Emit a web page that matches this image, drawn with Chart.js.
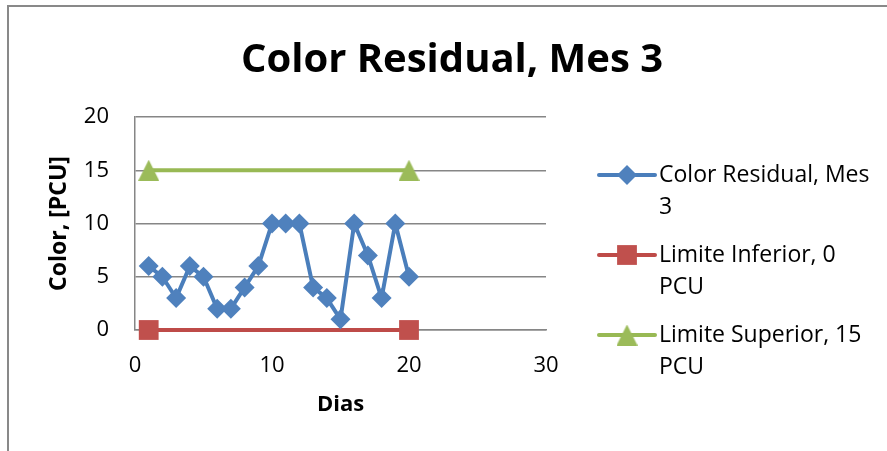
<!DOCTYPE html>
<html>
<head>
<meta charset="utf-8">
<script src="https://cdn.jsdelivr.net/npm/chart.js@4/dist/chart.umd.min.js"></script>
<style>
  html, body { margin: 0; padding: 0; background: #fff; }
  #wrap { position: relative; width: 887px; height: 451px; }
  canvas { display: block; }
</style>
</head>
<body>
<div id="wrap"><canvas id="c" width="887" height="451"></canvas></div>
<script>
// Day numbers and measured residual colour for month 3
const dias = [1, 2, 3, 4, 5, 6, 7, 8, 9, 10, 11, 12, 13, 14, 15, 16, 17, 18, 19, 20];
const colorResidual = [6, 5, 3, 6, 5, 2, 2, 4, 6, 10, 10, 10, 4, 3, 1, 10, 7, 3, 10, 5];

// Control limits, drawn between the first and last day
const limiteDias = [1, 20];
const limiteInferior = [0, 0];
const limiteSuperior = [15, 15];

const chartTitle = 'Color Residual, Mes 3';
const seriesNames = ['Color Residual, Mes 3', 'Limite Inferior, 0 PCU', 'Limite Superior, 15 PCU'];
const xTicks = [0, 10, 20, 30];
const yTicks = [0, 5, 10, 15, 20];

const FONT = "'Open Sans', 'DejaVu Sans', sans-serif";
const GRID = '#868686';

function pts(xs, ys) { return xs.map((x, i) => ({ x: x, y: ys[i] })); }

// Triangle marker whose bounding box is centred on the data point
function triangleMarker(size, color) {
  const c = document.createElement('canvas');
  c.width = size; c.height = size;
  const g = c.getContext('2d');
  g.fillStyle = color;
  g.beginPath();
  g.moveTo(size / 2, 0);
  g.lineTo(size, size);
  g.lineTo(0, size);
  g.closePath();
  g.fill();
  return c;
}
const triImg = triangleMarker(21, '#9BBB59');

// Frame line around the whole chart, plus the centred title
const framePlugin = {
  id: 'frame',
  beforeDraw(chart) {
    const ctx = chart.ctx;
    ctx.save();
    ctx.fillStyle = '#ffffff';
    ctx.fillRect(0, 0, chart.width, chart.height);
    ctx.strokeStyle = '#898989';
    ctx.lineWidth = 2;
    ctx.beginPath();
    ctx.moveTo(8, chart.height + 2);
    ctx.lineTo(8, 6);
    ctx.lineTo(chart.width + 2, 6);
    ctx.stroke();
    ctx.fillStyle = '#000000';
    ctx.font = 'bold 40px ' + FONT;
    ctx.textAlign = 'center';
    ctx.textBaseline = 'alphabetic';
    ctx.fillText(chartTitle, 452, 72);
    ctx.restore();
  }
};

function drawMarker(ctx, ds, x, y) {
  const style = ds.pointStyle;
  const r = ds.pointRadius;
  if (style instanceof HTMLCanvasElement) {
    ctx.drawImage(style, x - style.width / 2, y - style.height / 2);
    return;
  }
  ctx.fillStyle = ds.pointBackgroundColor;
  ctx.beginPath();
  if (style === 'rectRot') {
    ctx.moveTo(x, y - r); ctx.lineTo(x + r, y); ctx.lineTo(x, y + r); ctx.lineTo(x - r, y);
  } else {
    const s = r * Math.SQRT1_2;
    ctx.rect(x - s, y - s, 2 * s, 2 * s);
  }
  ctx.closePath();
  ctx.fill();
}

// Legend on the right with wrapped labels
const sideLegend = {
  id: 'sideLegend',
  afterDraw(chart) {
    const ctx = chart.ctx;
    const x0 = 599, x1 = 655, tx = 659, maxW = 218, lh = 32;
    const rowTops = [175, 255, 335];
    ctx.save();
    ctx.font = '23px ' + FONT;
    ctx.textBaseline = 'middle';
    ctx.textAlign = 'left';
    chart.data.datasets.forEach((ds, i) => {
      const y = rowTops[i];
      ctx.strokeStyle = ds.borderColor;
      ctx.lineWidth = 4;
      ctx.lineCap = 'round';
      ctx.beginPath();
      ctx.moveTo(x0, y); ctx.lineTo(x1, y);
      ctx.stroke();
      drawMarker(ctx, ds, (x0 + x1) / 2, y);
      // wrap label words to the available width
      const words = ds.label.split(' ');
      const lines = [];
      let cur = '';
      words.forEach(w => {
        const t = cur ? cur + ' ' + w : w;
        if (ctx.measureText(t).width > maxW && cur) { lines.push(cur); cur = w; }
        else cur = t;
      });
      if (cur) lines.push(cur);
      ctx.fillStyle = '#000000';
      lines.forEach((ln, k) => ctx.fillText(ln, tx, y + k * lh));
    });
    ctx.restore();
  }
};

new Chart(document.getElementById('c'), {
  type: 'scatter',
  data: {
    datasets: [
      {
        label: seriesNames[0],
        data: pts(dias, colorResidual),
        showLine: true,
        clip: false,
        borderColor: '#4A7EBB',
        borderWidth: 4,
        pointStyle: 'rectRot',
        pointRadius: 10,
        pointHoverRadius: 10,
        pointBackgroundColor: '#4F81BD',
        pointBorderWidth: 0,
        order: 1
      },
      {
        label: seriesNames[1],
        data: pts(limiteDias, limiteInferior),
        showLine: true,
        clip: false,
        borderColor: '#BE4B48',
        borderWidth: 4,
        pointStyle: 'rect',
        pointRadius: 14,
        pointHoverRadius: 14,
        pointBackgroundColor: '#C0504D',
        pointBorderWidth: 0,
        order: 2
      },
      {
        label: seriesNames[2],
        data: pts(limiteDias, limiteSuperior),
        showLine: true,
        clip: false,
        borderColor: '#98B954',
        borderWidth: 4,
        pointStyle: triImg,
        pointRadius: 11,
        pointHoverRadius: 11,
        pointBackgroundColor: '#9BBB59',
        pointBorderWidth: 0,
        order: 3
      }
    ]
  },
  options: {
    responsive: false,
    animation: false,
    events: [],
    layout: { padding: { left: 0, right: 341, top: 117, bottom: 0 } },
    plugins: {
      legend: { display: false },
      tooltip: { enabled: false },
      title: { display: false }
    },
    scales: {
      x: {
        type: 'linear',
        min: 0, max: 30,
        afterBuildTicks(scale) { scale.ticks = xTicks.map(v => ({ value: v })); },
        afterFit(scale) { scale.height = 121; },
        grid: { display: false, drawTicks: false },
        border: { display: true, color: GRID, width: 1.5 },
        ticks: { color: '#000000', padding: 23, font: { family: FONT, size: 22 } },
        title: {
          display: true, text: 'Dias', color: '#000000',
          font: { family: FONT, size: 22, weight: 'bold', lineHeight: 1.2 },
          padding: { top: 0, bottom: 33 }
        }
      },
      y: {
        type: 'linear',
        min: 0, max: 20,
        afterBuildTicks(scale) { scale.ticks = yTicks.map(v => ({ value: v })); },
        afterFit(scale) { scale.width = 135; },
        grid: { color: GRID, lineWidth: 1.5, drawTicks: false },
        border: { display: true, color: GRID, width: 1.5 },
        ticks: { color: '#000000', padding: 26, font: { family: FONT, size: 22 } },
        title: {
          display: true, text: 'Color, [PCU]', color: '#000000',
          font: { family: FONT, size: 23, weight: 'bold', lineHeight: 1.2 },
          padding: { top: 46, bottom: 0 }
        }
      }
    }
  },
  plugins: [framePlugin, sideLegend]
});
</script>
</body>
</html>
